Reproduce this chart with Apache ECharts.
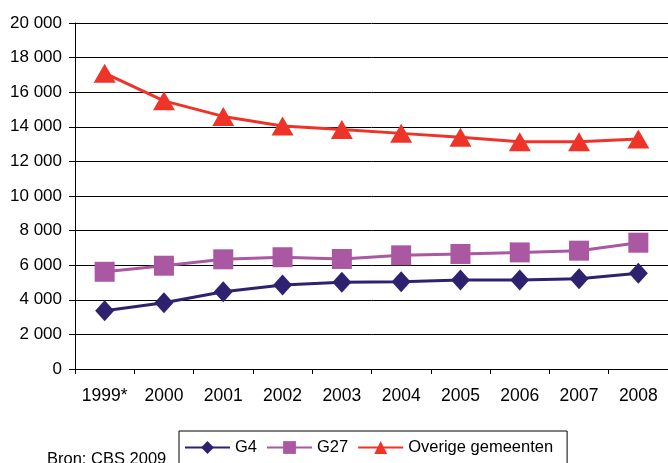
<!DOCTYPE html>
<html><head><meta charset="utf-8">
<script src="https://cdn.jsdelivr.net/npm/echarts@6/dist/echarts.min.js"></script>
<style>html,body{margin:0;padding:0;background:#fff}#c{width:668px;height:463px}</style>
</head><body><div id="c"></div>
<script>
var categories = ['1999*','2000','2001','2002','2003','2004','2005','2006','2007','2008'];
var g4 = [3370,3830,4470,4860,5010,5050,5140,5140,5220,5530];
var g27 = [5620,5970,6340,6460,6360,6570,6650,6740,6840,7300];
var overige = [17100,15500,14600,14050,13850,13620,13390,13140,13140,13290];
var seriesNames = ['G4','G27','Overige gemeenten'];
var yMin = 0, yMax = 20000, yStep = 2000;

var chart = echarts.init(document.getElementById('c'), null, {renderer:'canvas'});
var font = 'Liberation Sans, Arial, sans-serif';
chart.setOption({
  animation:false,
  textStyle:{fontFamily:font},
  grid:{left:75, top:23, right:-3, bottom:94, containLabel:false},
  xAxis:{type:'category', data:categories, boundaryGap:true,
    axisLine:{lineStyle:{color:'#000',width:1}},
    axisTick:{show:true, interval:0, length:5, lineStyle:{color:'#000'}, alignWithLabel:false},
    axisLabel:{color:'#000', interval:0, hideOverlap:false, fontSize:17.5, margin:18, fontFamily:font}},
  yAxis:{type:'value', min:yMin, max:yMax, interval:yStep,
    axisLine:{show:true, lineStyle:{color:'#000',width:1}},
    axisTick:{show:true, length:6, lineStyle:{color:'#000'}},
    splitLine:{lineStyle:{color:'#000',width:1}},
    axisLabel:{color:'#000', fontSize:17, margin:13, fontFamily:font,
      formatter:function(v){return String(v).replace(/\B(?=(\d{3})+(?!\d))/g,' ');}}},
  legend:{top:431, left:179, itemWidth:45, itemHeight:16, itemGap:9,
    borderColor:'#000', borderWidth:1, padding:[8,14,20,5],
    textStyle:{fontSize:16.5, color:'#000', fontFamily:font},
    data:seriesNames},
  graphic:[{type:'text', left:47, top:451, style:{text:'Bron: CBS 2009', fontSize:16.5, fill:'#000', fontFamily:font}}],
  series:[
    {name:seriesNames[0], type:'line', data:g4, symbol:'diamond', symbolSize:[19,21],
      lineStyle:{color:'#2E2270',width:3}, itemStyle:{color:'#2E2270'}},
    {name:seriesNames[1], type:'line', data:g27, symbol:'rect', symbolSize:20,
      lineStyle:{color:'#AA58A2',width:3}, itemStyle:{color:'#AA58A2'}},
    {name:seriesNames[2], type:'line', data:overige, symbol:'triangle', symbolSize:[22,19],
      lineStyle:{color:'#EE3328',width:3}, itemStyle:{color:'#EE3328'}}
  ]
});
</script></body></html>
